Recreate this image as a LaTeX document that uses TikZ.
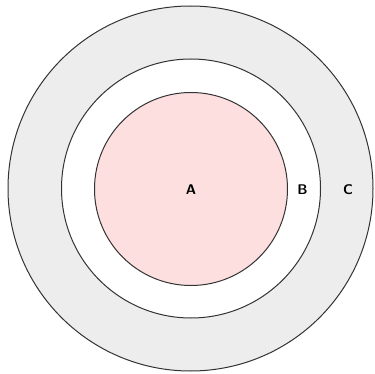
\documentclass[tikz,border=0pt]{standalone}
\usepackage{tikz}
\usetikzlibrary{positioning}
\definecolor{ringgray}{HTML}{EDEDED}
\definecolor{corepink}{HTML}{FDDFDF}

\begin{document}
\begin{tikzpicture}[x=1pt,y=-1pt,
    ring/.style={circle,draw=black!80,line width=1pt,inner sep=0pt,outer sep=0pt},
    lbl/.style={font=\sffamily\bfseries\fontsize{14}{14}\selectfont}]
    \useasboundingbox (0,0) rectangle (375,374);

    \node[ring,fill=ringgray,minimum size=365pt] (c) at (190.5,188.5) {};
    \node[ring,fill=white,minimum size=259pt] (b) at (191,188.5) {};
    \node[ring,fill=corepink,minimum size=193pt] (a) at (191,189) {};

    \node[lbl] (la) at (191,190) {A};
    \node[lbl] (lb) at (302.5,190) {B};
    \node[lbl] (lc) at (348,190) {C};
\end{tikzpicture}
\end{document}
